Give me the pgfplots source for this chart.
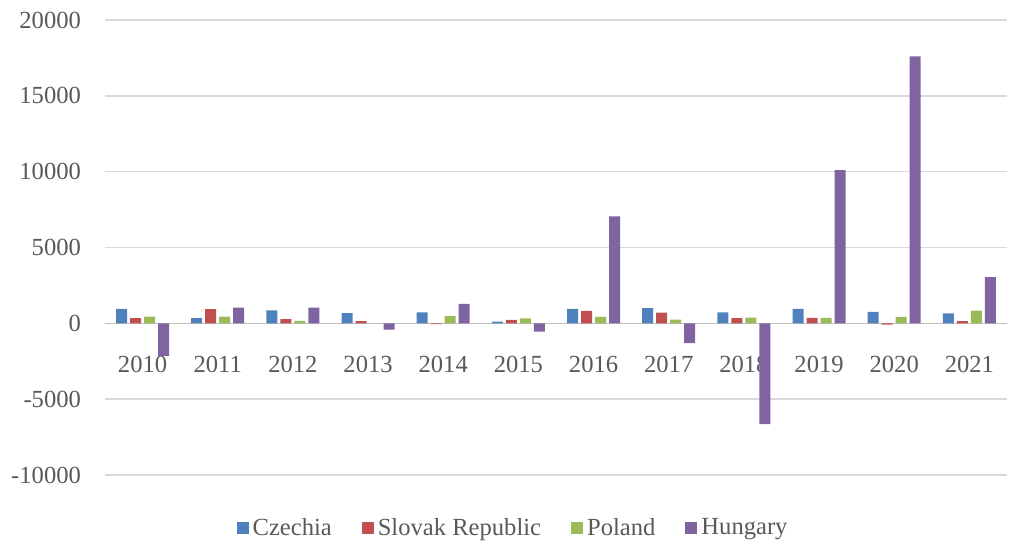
\documentclass[border=0pt]{standalone}
\usepackage{fontspec}
\setmainfont{Liberation Serif}
\usepackage{pgfplots}
\pgfplotsset{compat=1.18}
\definecolor{cz}{HTML}{4F81BD}
\definecolor{sk}{HTML}{C0504D}
\definecolor{pl}{HTML}{9BBB59}
\definecolor{hu}{HTML}{8064A2}
\definecolor{gridgray}{HTML}{D9D9D9}
\definecolor{axisgray}{HTML}{BFBFBF}
\definecolor{textgray}{HTML}{595959}
\begin{document}
\begin{tikzpicture}
\useasboundingbox (-52.5pt,-35.5pt) rectangle (452pt,237.5pt);
\begin{axis}[
  at={(0,0)}, anchor=south west,
  scale only axis, width=451pt, height=227.5pt,
  xmin=-0.5, xmax=11.5, ymin=-10000, ymax=20000,
  ytick={-10000,-5000,0,5000,10000,15000,20000},
  xtick={0,1,2,3,4,5,6,7,8,9,10,11},
  xticklabels={2010,2011,2012,2013,2014,2015,2016,2017,2018,2019,2020,2021},
  axis x line=middle, axis y line=left,
  x axis line style={draw=axisgray, line width=0.8pt, -},
  y axis line style={draw=none},
  major tick length=0pt,
  ymajorgrids, grid style={gridgray, line width=0.7pt},
  ybar=1.5pt, bar width=5.5pt,
  scaled y ticks=false,
  /pgf/number format/assume math mode=true,
  yticklabel={\pgfmathprintnumber[fixed,1000 sep={}]{\tick}},
  ticklabel style={font=\fontsize{12.3}{14}\selectfont, text=textgray},
  yticklabel style={xshift=-8.5pt},
  xticklabel style={yshift=-13pt},
  legend style={at={(0.4535,-0.1165)}, anchor=center, draw=none, fill=none,
    legend columns=-1, font=\fontsize{12.3}{14}\selectfont, text=textgray,
    /tikz/every even column/.append style={column sep=13pt},
    /tikz/every odd column/.append style={column sep=0pt}},
  legend cell align=left,
]
\addplot[fill=cz, draw=none, legend image code/.code={\fill[cz] (0pt,-3pt) rectangle (6pt,3pt);}] coordinates {
(0,950) (1,350) (2,850) (3,680) (4,720) (5,110) (6,960) (7,1000) (8,720) (9,960) (10,750) (11,660)};
\addplot[fill=sk, draw=none, legend image code/.code={\fill[sk] (0pt,-3pt) rectangle (6pt,3pt);}] coordinates {
(0,350) (1,930) (2,280) (3,140) (4,-50) (5,230) (6,820) (7,700) (8,350) (9,360) (10,-80) (11,140)};
\addplot[fill=pl, draw=none, legend image code/.code={\fill[pl] (0pt,-3pt) rectangle (6pt,3pt);}] coordinates {
(0,450) (1,450) (2,170) (3,0) (4,470) (5,330) (6,430) (7,250) (8,380) (9,360) (10,430) (11,840)};
\addplot[fill=hu, draw=none, legend image code/.code={\fill[hu] (0pt,-3pt) rectangle (6pt,3pt);}] coordinates {
(0,-2150) (1,1040) (2,1040) (3,-420) (4,1280) (5,-550) (6,7050) (7,-1300) (8,-6650) (9,10100) (10,17600) (11,3050)};
\legend{Czechia,Slovak Republic,Poland,Hungary}
\end{axis}
\end{tikzpicture}
\end{document}
